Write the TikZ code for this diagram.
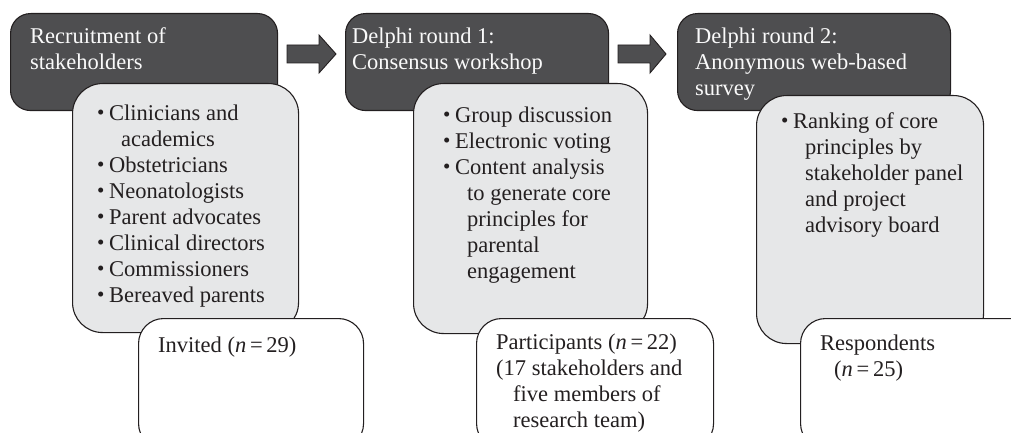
\documentclass[tikz,border=0pt]{standalone}
\usepackage{fontspec}
\setmainfont{Liberation Serif}
\definecolor{darkfill}{RGB}{78,78,80}
\definecolor{edge}{RGB}{35,31,32}
\definecolor{lightfill}{RGB}{230,231,232}
\definecolor{whitetext}{RGB}{250,250,250}
\newcommand{\bul}{\makebox[12pt][l]{\raisebox{0.02em}{\fontsize{21}{21}\selectfont\textbullet}}}
\newcommand{\cont}{\hspace*{24pt}}
\begin{document}
\begin{tikzpicture}[x=1pt,y=-1pt,
  darkbox/.style={draw=edge,line width=1.1pt,fill=darkfill,rounded corners=20pt,anchor=north west,inner sep=0pt},
  greybox/.style={draw=edge,line width=1.1pt,fill=lightfill,rounded corners=30pt,anchor=north west,inner sep=0pt},
  whitebox/.style={draw=edge,line width=1.1pt,fill=white,rounded corners=25pt,anchor=north west,inner sep=0pt},
  blockarrow/.style={draw=edge,line width=0.9pt,fill=darkfill,line join=miter},
  lbl/.style={anchor=north west,inner sep=0pt,align=left,text=edge,font=\fontsize{22.5}{26}\selectfont},
  hdr/.style={lbl,text=whitetext}]
\useasboundingbox (0,0) rectangle (1011,433);
\clip (0,0) rectangle (1011,433);
% column 1
\node[darkbox,minimum width=267pt,minimum height=97pt] (d1) at (10,13) {};
\node[greybox,minimum width=226pt,minimum height=249pt] (g1) at (72,83) {};
\node[whitebox,minimum width=225pt,minimum height=130pt] (w1) at (138,318) {};
% column 2
\node[darkbox,minimum width=263pt,minimum height=97pt] (d2) at (345,13) {};
\node[greybox,minimum width=234pt,minimum height=250pt] (g2) at (413,83) {};
\node[whitebox,minimum width=237pt,minimum height=130pt] (w2) at (476,318) {};
% column 3
\node[darkbox,minimum width=273pt,minimum height=97pt] (d3) at (677,13) {};
\node[greybox,minimum width=227pt,minimum height=248pt] (g3) at (756,95) {};
\node[whitebox,minimum width=240pt,minimum height=130pt] (w3) at (800,318) {};
% arrows
\coordinate (a1) at (287,54);
\coordinate (a2) at (618,54);
\draw[blockarrow] (a1) ++(0,-9) -- ++(32,0) -- ++(0,-10) -- ++(17,19) -- ++(-17,19) -- ++(0,-10) -- ++(-32,0) -- cycle;
\draw[blockarrow] (a2) ++(0,-9) -- ++(32,0) -- ++(0,-10) -- ++(16,19) -- ++(-16,19) -- ++(0,-10) -- ++(-32,0) -- cycle;
% texts column 1
\node[hdr] (t1) at (30,25) {\strut Recruitment of\\stakeholders};
\node[lbl] (l1) at (97,102) {\strut\bul Clinicians and\\\cont academics\\\bul Obstetricians\\\bul Neonatologists\\\bul Parent advocates\\\bul Clinical directors\\\bul Commissioners\\\bul Bereaved parents};
\node[lbl] (n1) at (158,334) {\strut Invited (\textit{n}\,=\,29)};
% texts column 2
\node[hdr] (t2) at (352,25) {\strut Delphi round 1:\\Consensus workshop};
\node[lbl] (l2) at (443,104) {\strut\bul Group discussion\\\bul Electronic voting\\\bul Content analysis\\\cont to generate core\\\cont principles for\\\cont parental\\\cont engagement};
\node[lbl] (n2) at (496,331) {\strut Participants (\textit{n}\,=\,22)\\(17 stakeholders and\\\hspace*{17pt}five members of\\\hspace*{17pt}research team)};
% texts column 3
\node[hdr] (t3) at (695,25) {\strut Delphi round 2:\\Anonymous web-based\\survey};
\node[lbl] (l3) at (781,110) {\strut\bul Ranking of core\\\cont principles by\\\cont stakeholder panel\\\cont and project\\\cont advisory board};
\node[lbl] (n3) at (820,332) {\strut Respondents\\\hspace*{14pt}(\textit{n}\,=\,25)};
\end{tikzpicture}
\end{document}
